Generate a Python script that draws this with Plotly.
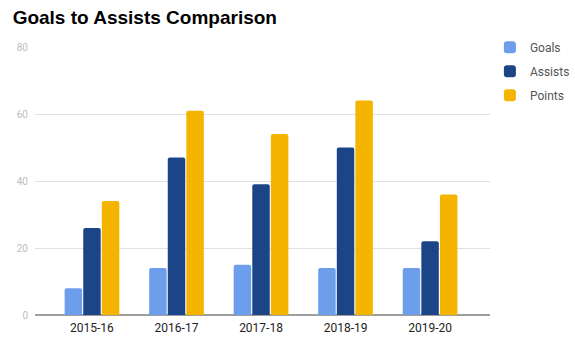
import plotly.graph_objects as go

seasons = ["2015-16", "2016-17", "2017-18", "2018-19", "2019-20"]
goals = [8, 14, 15, 14, 14]
assists = [26, 47, 39, 50, 22]
points = [34, 61, 54, 64, 36]

colors = {"Goals": "#6d9eeb", "Assists": "#1c4587", "Points": "#f4b400"}

fig = go.Figure()
for name, vals in [("Goals", goals), ("Assists", assists), ("Points", points)]:
    fig.add_trace(go.Bar(x=seasons, y=vals, name=name, legendgroup=name,
                         marker=dict(color=colors[name], line=dict(width=0))))

fig.update_layout(
    width=575, height=348,
    margin=dict(l=35, r=85, t=47, b=33, autoexpand=False),
    paper_bgcolor="white", plot_bgcolor="white",
    barmode="group", bargap=0.34, bargroupgap=0.06,
    barcornerradius=2,
    font=dict(family="Roboto, Arial, sans-serif"),
    title=dict(text="<b>Goals to Assists Comparison</b>", x=0.022, xanchor="left",
               y=0.95, yanchor="middle",
               font=dict(family="Liberation Sans, Arial, sans-serif", size=19, color="#000")),
    legend=dict(xref="container", yref="container", x=0.852, xanchor="left",
                y=0.906, yanchor="top",
                font=dict(size=12, color="#555"), tracegroupgap=5,
                itemwidth=30),
    showlegend=True,
)
fig.update_xaxes(range=[-0.674, 4.709], showgrid=False, ticks="",
                 tickfont=dict(size=12, color="#222"), showline=False,
                 ticklabelstandoff=4)
fig.update_yaxes(range=[0, 80], dtick=20, showgrid=True, gridcolor="#e0e0e0",
                 gridwidth=1, zeroline=True, zerolinecolor="#9e9e9e", zerolinewidth=1.5,
                 tickfont=dict(size=10, color="#bdbdbd"), ticks="",
                 ticklabelstandoff=6)

fig.write_html("out.html")
